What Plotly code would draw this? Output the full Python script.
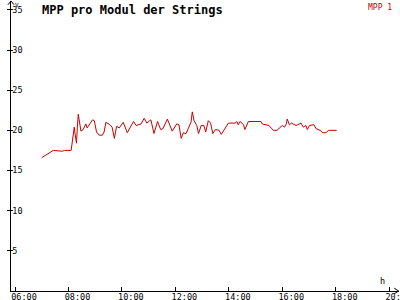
import plotly.graph_objects as go

times = ["07:00","07:26","07:46","07:51","08:06","08:09","08:13","08:15","08:18","08:20",
         "08:22","08:24","08:28","08:33","08:39","08:42","08:50","08:54","08:58","09:03",
         "09:09","09:16","09:20","09:24","09:33","09:38","09:43","09:48","09:54","10:03",
         "10:12","10:26","10:32","10:43","10:50","10:56","11:02","11:05","11:12","11:20",
         "11:27","11:32","11:42","11:53","12:03","12:08","12:13","12:18","12:24","12:31",
         "12:35","12:38","12:42","12:48","12:52","12:58","13:04","13:08","13:14","13:19",
         "13:24","13:30","13:38","13:43","13:49","13:59","14:14","14:18","14:21","14:25",
         "14:33","14:36","14:44","15:12","15:15","15:23","15:30","15:40","15:48","16:00",
         "16:05","16:09","16:11","16:16","16:21","16:31","16:42","16:47","16:53","16:56",
         "17:01","17:11","17:16","17:25","17:31","17:38","17:44","18:02"]
values = [16.6,17.5,17.4,17.5,17.5,18.9,20.4,19.5,18.4,20.4,
          22.0,21.3,19.9,20.1,20.8,20.3,20.9,21.3,21.2,19.8,
          19.4,19.4,19.8,21.0,20.7,20.4,19.0,20.5,20.3,21.0,
          19.7,21.1,20.6,20.8,21.5,20.9,21.2,21.3,19.6,21.1,
          20.1,20.2,21.4,19.9,20.8,20.7,19.0,19.7,19.6,20.6,
          21.0,22.3,21.2,20.6,19.6,20.6,20.6,19.8,21.2,20.9,
          19.6,20.1,20.0,19.5,20.0,20.9,20.9,21.1,20.7,21.1,
          20.7,20.1,21.1,21.1,20.8,20.7,20.6,20.0,20.0,20.6,
          20.4,20.8,21.4,20.7,20.9,20.6,20.9,20.4,20.6,20.1,
          20.6,20.7,20.2,20.0,19.7,19.7,20.0,20.0]
day = "2024-01-01 "
xtick_vals = ["06:00","08:00","10:00","12:00","14:00","16:00","18:00","20:00"]
ytick_vals = [5,10,15,20,25,30,35]
title = "MPP pro Modul der Strings"
series_name = "MPP 1"

mono = "DejaVu Sans Mono"
xrange = [day + "05:51", day + "20:22"]
yrange = [0, 36.1]

fig = go.Figure()
fig.add_trace(go.Scatter(x=[day + t for t in times], y=values, mode="lines",
                         line=dict(color="#c80000", width=1), name=series_name,
                         showlegend=False))
# invisible helper trace for the secondary (tick-only) y axis
fig.add_trace(go.Scatter(x=[day + times[0]], y=[values[0]], yaxis="y2", mode="lines",
                         line=dict(width=0), showlegend=False, hoverinfo="skip"))
fig.update_layout(
    width=400, height=300, margin=dict(l=11, r=1, t=1, b=9, autoexpand=False),
    paper_bgcolor="white", plot_bgcolor="white",
    xaxis=dict(type="date", range=xrange, automargin=False,
               tickvals=[day + t for t in xtick_vals], ticktext=xtick_vals,
               showgrid=False, zeroline=False, showline=True, linecolor="black",
               linewidth=1, ticks="inside", ticklen=4, tickcolor="black",
               ticklabelshift=9, ticklabelstandoff=-2, ticklabeloverflow="allow",
               tickfont=dict(family=mono, size=8.5, color="black")),
    yaxis=dict(range=yrange, tickvals=ytick_vals, automargin=False,
               showgrid=False, zeroline=False, showline=True, linecolor="black",
               linewidth=1, ticks="outside", ticklen=3, tickcolor="black",
               ticklabelposition="inside", ticklabeloverflow="allow",
               tickfont=dict(family=mono, size=8.5, color="black")),
    yaxis2=dict(range=yrange, tickvals=ytick_vals, overlaying="y", side="left",
                automargin=False,
                showgrid=False, zeroline=False, showline=False, showticklabels=False,
                ticks="inside", ticklen=2, tickcolor="black"),
)
fig.add_annotation(text="<b>" + title + "</b>", xref="paper", yref="paper",
                   x=(40 - 11) / 388, y=1.0, xanchor="left", yanchor="top",
                   showarrow=False, font=dict(family=mono, size=12, color="black"))
fig.add_annotation(text=series_name, xref="paper", yref="paper",
                   x=1.0, y=1.0, xanchor="right", yanchor="top", xshift=-5, yshift=0,
                   showarrow=False, font=dict(family=mono, size=8, color="#c80000"))
fig.add_annotation(text="h", xref="paper", yref="paper", x=(387 - 11) / 388, y=0,
                   yanchor="bottom", yshift=3, showarrow=False,
                   font=dict(family=mono, size=8.5, color="black"))
fig.add_annotation(text="V", xref="paper", yref="paper", x=0, y=1, xanchor="left",
                   yanchor="top", xshift=2, yshift=2, showarrow=False,
                   font=dict(family=mono, size=6, color="black"))
# axis arrowheads
fig.add_shape(type="path", xref="paper", yref="paper",
              path="M 0.9875 0.01 L 0.999 0 L 0.9875 -0.01", line=dict(color="black", width=1))
fig.add_shape(type="path", xref="paper", yref="paper",
              path="M -0.008 0.987 L 0 1.0 L 0.008 0.987", line=dict(color="black", width=1))
fig.write_html("out.html")
